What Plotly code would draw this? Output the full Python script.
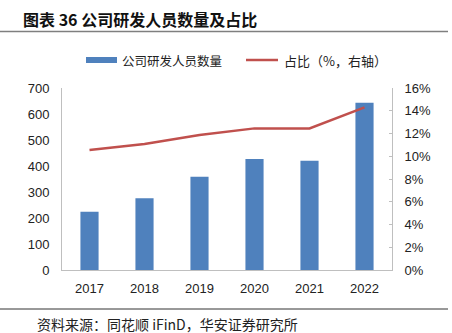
import plotly.graph_objects as go

years = ["2017", "2018", "2019", "2020", "2021", "2022"]
staff = [224, 276, 359, 427, 420, 643]
ratio = [10.55, 11.08, 11.87, 12.45, 12.45, 14.3]

left_ticks = [0, 100, 200, 300, 400, 500, 600, 700]
right_ticks = [0, 2, 4, 6, 8, 10, 12, 14, 16]

W, H = 452, 333
L, R, T, B = 62, 60, 88, 63
ph = H - T - B


def py(Y):
    return (H - B - Y) / ph


def px(X):
    return (X - L) / (W - L - R)


BLUE = "#4F81BD"
RED = "#C0504D"
NUM_FONT = "Liberation Sans, Arial, sans-serif"
CJK_FONT = "Noto Sans CJK SC, sans-serif"

fig = go.Figure()
fig.add_trace(go.Bar(x=years, y=staff, marker=dict(color=BLUE, line=dict(width=0)),
                     name="公司研发人员数量", yaxis="y"))
fig.add_trace(go.Scatter(x=years, y=ratio, mode="lines", line=dict(color=RED, width=2.5),
                         name="占比（%，右轴）", yaxis="y2"))

fig.update_layout(
    width=W, height=H,
    margin=dict(l=L, r=R, t=T, b=B),
    paper_bgcolor="white", plot_bgcolor="white",
    showlegend=False,
    bargap=0.67,
    font=dict(family=NUM_FONT, size=13, color="#222"),
    xaxis=dict(type="category", showline=True, linecolor="#BFBFBF", linewidth=1,
               ticks="", showgrid=False, tickfont=dict(size=13, color="#222"),
               ticklabelstandoff=6),
    yaxis=dict(range=[0, 700], tickvals=left_ticks, showgrid=False, zeroline=False,
               showline=True, linecolor="#BFBFBF", linewidth=1, ticks="",
               tickfont=dict(size=13, color="#222"), ticklabelstandoff=9),
    yaxis2=dict(range=[0, 16], tickvals=right_ticks, ticktext=[f"{v}%" for v in right_ticks],
                overlaying="y", side="right", showgrid=False, zeroline=False,
                showline=True, linecolor="#BFBFBF", linewidth=1, ticks="inside",
                ticklen=3, tickcolor="#BFBFBF",
                tickfont=dict(size=13, color="#222"), ticklabelstandoff=9),
)

# title
fig.add_annotation(text="<b>图表 36 公司研发人员数量及占比</b>", xref="paper", yref="paper",
                   x=px(21), y=py(19), xanchor="left", yanchor="middle", showarrow=False,
                   font=dict(family=CJK_FONT, size=16, color="#111"))
fig.add_shape(type="line", xref="paper", yref="paper", x0=px(0), x1=px(448),
              y0=py(31.5), y1=py(31.5), line=dict(color="#7F7F7F", width=1.5))

# legend
fig.add_shape(type="rect", xref="paper", yref="paper", x0=px(86), x1=px(117),
              y0=py(63), y1=py(57), fillcolor=BLUE, line=dict(width=0))
fig.add_annotation(text="公司研发人员数量", xref="paper", yref="paper", x=px(120), y=py(60),
                   xanchor="left", yanchor="middle", showarrow=False,
                   font=dict(family=CJK_FONT, size=12.5, color="#222"))
fig.add_shape(type="line", xref="paper", yref="paper", x0=px(246), x1=px(278),
              y0=py(60), y1=py(60), line=dict(color=RED, width=2.5))
fig.add_annotation(text="占比（%，右轴）", xref="paper", yref="paper", x=px(282), y=py(60),
                   xanchor="left", yanchor="middle", showarrow=False,
                   font=dict(family=CJK_FONT, size=13, color="#222"))

# source
fig.add_shape(type="line", xref="paper", yref="paper", x0=px(0), x1=px(448),
              y0=py(309), y1=py(309), line=dict(color="#333", width=1))
fig.add_annotation(text="资料来源：同花顺 iFinD，华安证券研究所", xref="paper", yref="paper",
                   x=px(35), y=py(324), xanchor="left", yanchor="middle", showarrow=False,
                   font=dict(family=CJK_FONT, size=14, color="#222"))

fig.write_html("out.html")
